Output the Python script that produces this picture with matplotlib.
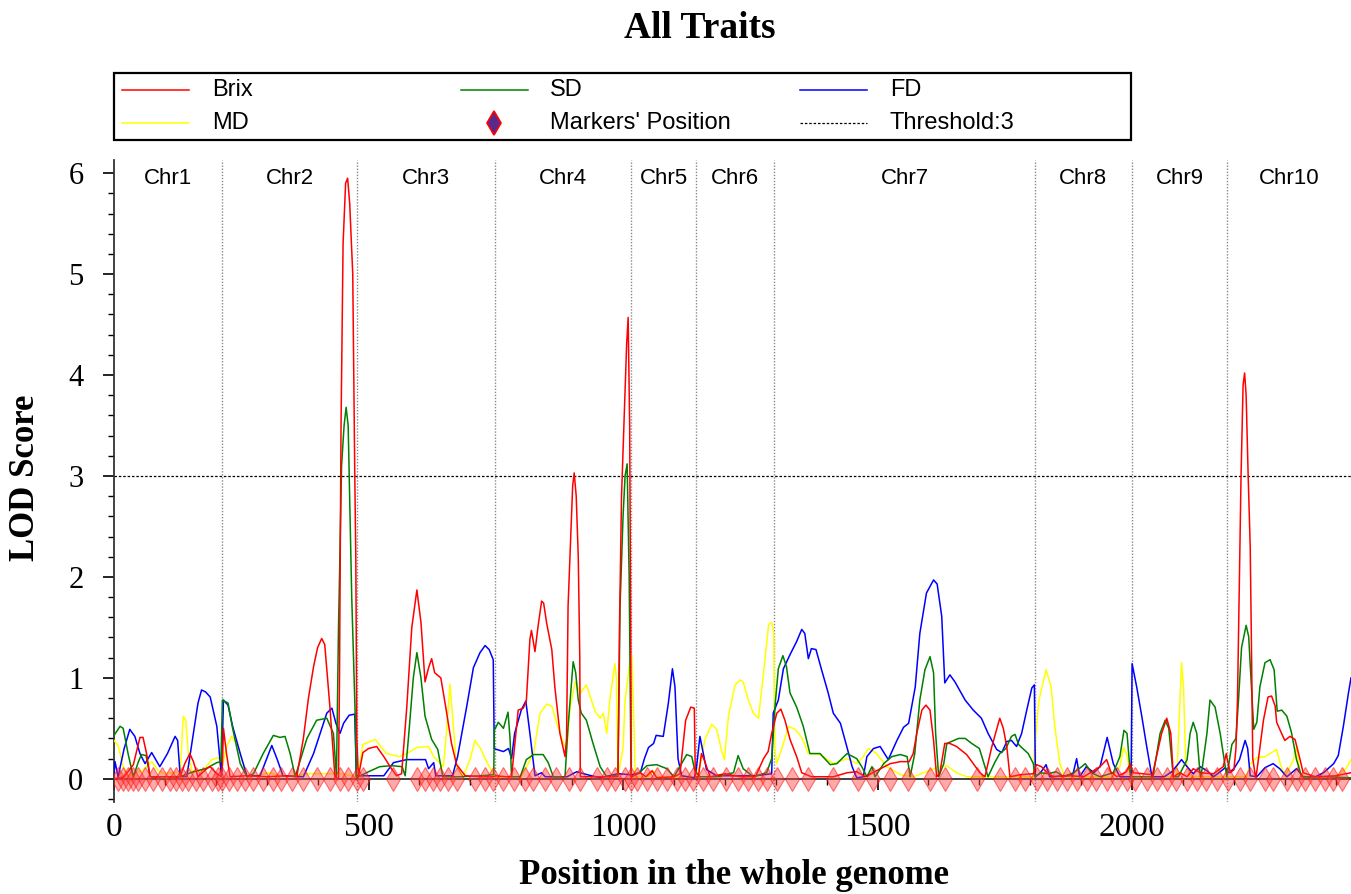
#!/usr/bin/env python3
"""LOD profiles of four traits along the whole genome (QTL scan)."""
import matplotlib

matplotlib.use("Agg")
import matplotlib.pyplot as plt
from matplotlib.patches import Rectangle
from matplotlib.ticker import MultipleLocator

# ---- data -------------------------------------------------------------
CHR_NAMES = ["Chr1", "Chr2", "Chr3", "Chr4", "Chr5", "Chr6", "Chr7", "Chr8", "Chr9", "Chr10"]
CHR_BOUNDS = [212, 478, 748, 1016, 1143, 1297, 1809, 1999, 2187]
GENOME_END = 2430
THRESHOLD = 3

brix_pos = [0, 20, 38, 51, 57, 64, 71, 100, 130, 139, 149, 156, 165, 182, 189, 200, 211,
            213, 215, 221, 228, 260, 300, 340, 359, 372, 382, 392, 400, 408, 414, 424, 434, 441,
            443, 446, 450, 455, 459, 463, 469, 473, 475, 477,
            480, 489, 500, 516, 530, 545, 555, 565, 575, 585, 595, 603, 611, 618, 624, 630, 642,
            652, 663, 673, 690, 720, 746,
            750, 770, 781, 794, 804, 810, 817, 820, 827, 833, 840, 844, 850, 860, 866, 876, 886,
            889, 892, 897, 901, 904, 908, 912, 915, 916, 950, 990, 993, 997, 1003, 1007, 1010,
            1013, 1015, 1016,
            1034, 1045, 1057, 1066, 1100, 1112, 1115, 1123, 1133, 1140, 1142,
            1148, 1154, 1160, 1171, 1200, 1230, 1260, 1276, 1285, 1292,
            1302, 1310, 1318, 1328, 1341, 1351, 1370, 1413, 1440, 1459, 1476, 1498, 1525, 1545,
            1562, 1570, 1577, 1587, 1595, 1603, 1610, 1616, 1622, 1632, 1642, 1655, 1675, 1688,
            1701, 1711, 1724, 1740, 1747, 1754, 1760, 1780, 1806,
            1812, 1822, 1831, 1844, 1880, 1905, 1937, 1950, 1958, 1970, 1989, 1996,
            2002, 2040, 2058, 2068, 2076, 2081, 2094, 2108, 2120, 2134, 2160, 2179, 2185,
            2187, 2193, 2200, 2204, 2207, 2211, 2214, 2218, 2221, 2224, 2228, 2232, 2234, 2237,
            2243, 2248, 2258, 2267, 2274, 2281, 2284, 2290, 2300, 2310, 2320, 2330, 2336, 2360,
            2400, 2430]
brix_lod = [0.0, 0.02, 0.14, 0.41, 0.41, 0.25, 0.02, 0.02, 0.02, 0.15, 0.25, 0.17, 0.02, 0.1, 0.12, 0.06, 0.02,
            0.15, 0.5, 0.25, 0.02, 0.03, 0.02, 0.03, 0.02, 0.4, 0.8, 1.11, 1.3, 1.39, 1.33, 0.72, 0.02, 0.0,
            1.0, 3.5, 5.3, 5.9, 5.95, 5.7, 5.0, 3.0, 2.2, 0.4,
            0.02, 0.26, 0.3, 0.32, 0.22, 0.1, 0.03, 0.05, 0.7, 1.5, 1.87, 1.55, 0.96, 1.1, 1.19, 1.05, 1.0,
            0.7, 0.35, 0.14, 0.03, 0.02, 0.02,
            0.03, 0.02, 0.02, 0.68, 0.7, 0.77, 1.38, 1.47, 1.26, 1.51, 1.76, 1.74, 1.54, 1.28, 0.91, 0.45, 0.22,
            0.4, 1.71, 2.37, 2.9, 3.03, 2.8, 2.2, 1.2, 0.02, 0.02, 0.02, 1.5, 2.8, 3.7, 4.3, 4.57,
            3.5, 1.5, 0.02,
            0.06, 0.02, 0.08, 0.01, 0.02, 0.05, 0.2, 0.58, 0.71, 0.7, 0.02,
            0.02, 0.25, 0.18, 0.02, 0.05, 0.02, 0.02, 0.2, 0.27, 0.45,
            0.65, 0.69, 0.58, 0.39, 0.22, 0.06, 0.02, 0.02, 0.06, 0.07, 0.02, 0.08, 0.15, 0.17,
            0.17, 0.25, 0.45, 0.68, 0.73, 0.68, 0.38, 0.02, 0.05, 0.35, 0.35, 0.32, 0.24, 0.15,
            0.06, 0.02, 0.31, 0.6, 0.5, 0.31, 0.02, 0.04, 0.05,
            0.14, 0.12, 0.07, 0.02, 0.03, 0.02, 0.12, 0.19, 0.07, 0.02, 0.07, 0.15,
            0.06, 0.04, 0.45, 0.6, 0.45, 0.02, 0.06, 0.02, 0.1, 0.06, 0.05, 0.12, 0.25,
            0.19, 0.06, 0.09, 0.3, 0.78, 2.07, 3.0, 3.9, 4.02, 3.8, 3.0, 2.3, 1.5, 0.2,
            0.0, 0.19, 0.58, 0.81, 0.82, 0.72, 0.56, 0.49, 0.38, 0.42, 0.39, 0.19, 0.06, 0.02,
            0.03, 0.06]

sd_pos = [0, 12, 18, 28, 38, 48, 54, 63, 71, 100, 130, 156, 180, 202, 210,
          213, 224, 233, 248, 261, 274, 293, 313, 326, 336, 346, 356, 379, 398, 418, 431, 437,
          441, 443, 447, 452, 456, 460, 464, 467, 471, 474, 476,
          480, 500, 522, 545, 566, 572, 580, 588, 595, 603, 611, 624, 636, 646, 680, 720, 746,
          747, 755, 765, 774, 778, 781, 798, 810, 824, 843, 853, 863, 886, 892, 898, 902, 907,
          912, 918, 928, 941, 955, 968, 985, 990, 992, 994, 1000, 1004, 1008, 1012, 1015, 1016,
          1034, 1047, 1066, 1086, 1100, 1115, 1125, 1135, 1141,
          1151, 1184, 1217, 1226, 1236, 1256, 1282, 1292,
          1299, 1305, 1314, 1321, 1328, 1341, 1354, 1367, 1387, 1407, 1420, 1440, 1459, 1469,
          1479, 1489, 1495, 1512, 1528, 1545, 1558, 1564, 1573, 1583, 1593, 1603, 1610, 1614,
          1620, 1630, 1636, 1659, 1672, 1685, 1700, 1711, 1717, 1730, 1740, 1752, 1763, 1770,
          1777, 1783, 1796, 1806,
          1809, 1820, 1835, 1851, 1865, 1885, 1901, 1908, 1920, 1937, 1963, 1976, 1984, 1990, 1997,
          2002, 2041, 2055, 2065, 2072, 2081, 2091, 2108, 2114, 2120, 2127, 2134, 2137, 2147,
          2153, 2163, 2173, 2183, 2186,
          2196, 2204, 2209, 2215, 2224, 2229, 2235, 2239, 2245, 2251, 2261, 2271, 2279, 2285,
          2294, 2304, 2313, 2323, 2333, 2380, 2430]
sd_lod = [0.43, 0.52, 0.5, 0.24, 0.02, 0.17, 0.24, 0.23, 0.02, 0.0, 0.02, 0.07, 0.1, 0.16, 0.17,
          0.78, 0.75, 0.5, 0.15, 0.02, 0.05, 0.25, 0.43, 0.41, 0.42, 0.25, 0.02, 0.4, 0.58, 0.6, 0.45, 0.02,
          1.5, 2.0, 3.1, 3.5, 3.68, 3.5, 2.5, 1.8, 1.1, 0.6, 0.0,
          0.02, 0.07, 0.12, 0.13, 0.12, 0.03, 0.5, 1.0, 1.25, 1.0, 0.62, 0.39, 0.29, 0.02, 0.02, 0.03, 0.04,
          0.48, 0.56, 0.5, 0.66, 0.4, 0.02, 0.02, 0.19, 0.24, 0.24, 0.16, 0.02, 0.02, 0.52, 0.9, 1.16, 1.05,
          0.78, 0.65, 0.58, 0.35, 0.12, 0.02, 0.03, 0.05, 0.8, 1.7, 2.6, 3.0, 3.12, 2.0, 0.4, 0.02,
          0.07, 0.13, 0.14, 0.1, 0.02, 0.15, 0.24, 0.22, 0.08,
          0.02, 0.02, 0.06, 0.23, 0.1, 0.02, 0.06, 0.2,
          0.75, 1.09, 1.22, 1.11, 0.85, 0.71, 0.52, 0.25, 0.25, 0.14, 0.15, 0.25, 0.2, 0.12,
          0.02, 0.12, 0.02, 0.15, 0.22, 0.24, 0.22, 0.02, 0.25, 0.78, 1.08, 1.21, 1.05, 0.45,
          0.02, 0.15, 0.35, 0.4, 0.4, 0.35, 0.3, 0.12, 0.02, 0.16, 0.25, 0.3, 0.42, 0.44,
          0.34, 0.31, 0.25, 0.15,
          0.02, 0.06, 0.05, 0.07, 0.02, 0.06, 0.12, 0.15, 0.06, 0.02, 0.06, 0.22, 0.48, 0.45, 0.02,
          0.02, 0.02, 0.45, 0.58, 0.5, 0.02, 0.02, 0.19, 0.45, 0.56, 0.45, 0.02, 0.08, 0.45,
          0.78, 0.71, 0.45, 0.12, 0.02,
          0.34, 0.4, 0.78, 1.3, 1.52, 1.41, 0.85, 0.49, 0.56, 0.91, 1.15, 1.18, 1.08, 0.67,
          0.68, 0.62, 0.46, 0.19, 0.02, 0.02, 0.01]

fd_pos = [0, 2, 8, 20, 31, 41, 51, 61, 74, 90, 105, 120, 125, 130, 143, 156, 165, 172, 180, 189, 202, 211,
          215, 224, 233, 248, 261, 287, 300, 310, 320, 332, 372, 392, 405, 418, 428, 436, 444, 451, 462,
          473, 476,
          489, 530, 549, 575, 612, 618, 628, 632, 665, 675, 693, 706, 719, 729, 737, 745, 747,
          752, 765, 775, 781, 787, 800, 809, 817, 827, 840, 847, 890, 909, 930, 955, 990, 1016,
          1034, 1042, 1050, 1060, 1065, 1079, 1089, 1097, 1102, 1108, 1115, 1140,
          1144, 1151, 1164, 1184, 1230, 1260, 1292,
          1295, 1305, 1315, 1328, 1341, 1351, 1357, 1364, 1370, 1379, 1390, 1403, 1413, 1427,
          1440, 1450, 1459, 1472, 1479, 1492, 1505, 1521, 1538, 1551, 1561, 1574, 1583, 1596,
          1610, 1617, 1626, 1632, 1642, 1652, 1672, 1688, 1704, 1717, 1734, 1744, 1754, 1763,
          1773, 1783, 1793, 1803, 1808,
          1810, 1820, 1831, 1838, 1870, 1884, 1891, 1897, 1910, 1925, 1937, 1951, 1963, 1976, 1998,
          2000, 2009, 2019, 2029, 2039, 2063, 2078, 2091, 2097, 2108, 2120, 2134, 2147, 2160,
          2173, 2183,
          2190, 2200, 2211, 2222, 2227, 2232, 2245, 2261, 2277, 2290, 2304, 2323, 2336, 2360,
          2376, 2396, 2405, 2415, 2425, 2430]
fd_lod = [0.05, 0.17, 0.02, 0.3, 0.49, 0.42, 0.25, 0.15, 0.26, 0.12, 0.25, 0.42, 0.38, 0.03, 0.02, 0.45,
          0.75, 0.88, 0.86, 0.81, 0.52, 0.03,
          0.78, 0.73, 0.52, 0.25, 0.03, 0.03, 0.2, 0.33, 0.2, 0.03, 0.02, 0.25, 0.45, 0.65, 0.7, 0.55, 0.45,
          0.55, 0.63, 0.64, 0.03,
          0.03, 0.03, 0.16, 0.19, 0.19, 0.1, 0.16, 0.03, 0.03, 0.22, 0.72, 1.1, 1.25, 1.32, 1.28, 1.18, 0.3,
          0.29, 0.27, 0.3, 0.2, 0.45, 0.68, 0.77, 0.45, 0.03, 0.06, 0.02, 0.02, 0.07, 0.04, 0.01, 0.05, 0.04,
          0.06, 0.2, 0.31, 0.35, 0.43, 0.42, 0.75, 1.09, 0.91, 0.2, 0.03, 0.01,
          0.1, 0.42, 0.09, 0.03, 0.03, 0.03, 0.05,
          0.65, 0.78, 1.09, 1.23, 1.36, 1.48, 1.44, 1.19, 1.29, 1.28, 1.08, 0.85, 0.65, 0.55,
          0.31, 0.12, 0.01, 0.02, 0.22, 0.3, 0.32, 0.19, 0.38, 0.51, 0.55, 0.91, 1.44, 1.84,
          1.97, 1.93, 1.61, 0.95, 1.03, 0.96, 0.78, 0.68, 0.6, 0.45, 0.29, 0.26, 0.37, 0.38,
          0.32, 0.45, 0.68, 0.9, 0.93,
          0.02, 0.06, 0.14, 0.02, 0.03, 0.05, 0.2, 0.02, 0.12, 0.06, 0.12, 0.41, 0.15, 0.02, 0.02,
          1.14, 0.91, 0.62, 0.31, 0.02, 0.02, 0.07, 0.15, 0.19, 0.12, 0.05, 0.12, 0.08, 0.02,
          0.07, 0.11,
          0.06, 0.1, 0.19, 0.38, 0.3, 0.03, 0.02, 0.11, 0.15, 0.1, 0.02, 0.1, 0.02, 0.02,
          0.06, 0.15, 0.23, 0.52, 0.85, 1.0]

md_pos = [0, 8, 18, 28, 38, 55, 74, 87, 100, 130, 136, 141, 146, 153, 175, 192, 205, 211,
          221, 231, 241, 254, 261, 290, 303, 320, 340, 380, 420, 450, 476,
          483, 489, 513, 535, 561, 575, 595, 618, 628, 647, 653, 660, 667, 673, 686, 700, 709, 720, 729, 748,
          781, 800, 824, 837, 850, 860, 870, 883, 889, 896, 906, 916, 928, 945, 955, 961, 968, 974, 984,
          987, 990, 1000, 1004, 1012, 1017, 1020, 1024,
          1050, 1059, 1066, 1140,
          1151, 1161, 1174, 1184, 1194, 1199, 1207, 1220, 1230, 1236, 1246, 1256, 1266, 1276, 1286,
          1292, 1296, 1298,
          1302, 1315, 1325, 1338, 1351, 1364, 1387, 1413, 1440, 1459, 1472, 1482, 1498, 1518, 1545,
          1570, 1622, 1636, 1655, 1675, 1806,
          1808, 1817, 1831, 1841, 1848, 1858, 1868, 1960, 1976, 1983, 1990, 1996,
          2002, 2088, 2094, 2097, 2101, 2105, 2114, 2185,
          2200, 2225, 2232, 2245, 2261, 2271, 2284, 2291, 2300, 2317, 2323, 2330, 2345, 2400, 2420, 2430]
md_lod = [0.38, 0.33, 0.12, 0.02, 0.05, 0.08, 0.17, 0.08, 0.05, 0.07, 0.62, 0.58, 0.25, 0.08, 0.08, 0.19,
          0.21, 0.08,
          0.32, 0.42, 0.35, 0.15, 0.02, 0.04, 0.06, 0.04, 0.02, 0.05, 0.05, 0.05, 0.02,
          0.15, 0.34, 0.39, 0.25, 0.22, 0.25, 0.31, 0.32, 0.22, 0.12, 0.45, 0.94, 0.5, 0.12, 0.02, 0.2, 0.38,
          0.3, 0.2, 0.02,
          0.02, 0.02, 0.25, 0.65, 0.74, 0.72, 0.55, 0.35, 0.3, 0.71, 0.96, 0.85, 0.93, 0.67, 0.6, 0.65, 0.45,
          0.78, 1.14, 1.0, 0.02, 0.3, 0.78, 1.1, 1.23, 0.78, 0.02,
          0.02, 0.08, 0.02, 0.02,
          0.12, 0.39, 0.54, 0.49, 0.27, 0.19, 0.62, 0.93, 0.98, 0.96, 0.78, 0.65, 0.6, 1.05, 1.53,
          1.55, 1.44, 0.3,
          0.15, 0.35, 0.52, 0.49, 0.41, 0.25, 0.24, 0.15, 0.2, 0.15, 0.22, 0.3, 0.25, 0.12, 0.04,
          0.02, 0.12, 0.13, 0.06, 0.02, 0.02,
          0.28, 0.78, 1.08, 0.91, 0.52, 0.15, 0.02, 0.02, 0.12, 0.31, 0.24, 0.02,
          0.02, 0.02, 0.78, 1.15, 0.91, 0.2, 0.02, 0.02,
          0.02, 0.02, 0.15, 0.21, 0.22, 0.25, 0.29, 0.15, 0.02, 0.19, 0.32, 0.05, 0.02, 0.02, 0.1, 0.19]

marker_pos = [8, 18, 28, 38, 48, 61, 77, 94, 110, 122, 133, 146, 162, 175, 192, 205,
              212, 226, 241, 257, 274, 293, 313, 329, 349, 372, 398, 424, 444, 460,
              477, 490, 549, 595, 611, 627, 641, 656, 673, 709, 728,
              745, 765, 785, 807, 824, 847, 869, 893, 916, 948, 968, 984, 1004,
              1016, 1027, 1047, 1066, 1086, 1105, 1122, 1138,
              1158, 1177, 1203, 1226, 1246, 1266, 1282,
              1302, 1331, 1364, 1413, 1462, 1491, 1524, 1560, 1603, 1633, 1695, 1741, 1770, 1790,
              1813, 1832, 1852, 1872, 1891, 1911, 1930, 1950, 1970, 1989,
              2006, 2029, 2048, 2068, 2087, 2107, 2127, 2146, 2166,
              2189, 2212, 2232, 2261, 2277, 2304, 2323, 2340, 2359, 2379, 2395, 2412]

SERIES = [  # drawn bottom to top
    ("MD", md_pos, md_lod, "#ffff00"),
    ("FD", fd_pos, fd_lod, "#0000ff"),
    ("SD", sd_pos, sd_lod, "#008000"),
    ("Brix", brix_pos, brix_lod, "#ff0000"),
]
COLORS = {name: c for name, _, _, c in SERIES}

SANS = ["Liberation Sans", "DejaVu Sans"]
SERIF = ["Liberation Serif", "DejaVu Serif"]
Y_LO, Y_HI = -0.23, 6.13
W, H = 1351, 894
THR_STYLE = (0, (2, 1.5))


def draw_legend(fig):
    # box spans px 114..1131 horizontally, 73..140 vertically; work in box pixels
    lax = fig.add_axes([114 / W, 1 - 140 / H, (1131 - 114) / W, 67 / H])
    lax.set_xlim(0, 1017)
    lax.set_ylim(0, 67)
    lax.axis("off")
    lax.add_patch(Rectangle((0, 0), 1017, 67, fill=False, ec="black", lw=1.6, clip_on=False))
    rows = [50, 17]
    cols = [(8, 98), (347, 436), (686, 776)]
    entries = [("Brix", "line", COLORS["Brix"]), ("SD", "line", COLORS["SD"]),
               ("FD", "line", COLORS["FD"]), ("MD", "line", COLORS["MD"]),
               ("Markers' Position", "marker", None), ("Threshold:%d" % THRESHOLD, "thr", "black")]
    for i, (label, kind, color) in enumerate(entries):
        y = rows[i // 3]
        hx, tx = cols[i % 3]
        if kind == "line":
            lax.plot([hx, hx + 67], [y, y], color=color, lw=1.1)
        elif kind == "thr":
            lax.plot([hx, hx + 67], [y, y], color=color, lw=0.9, ls=THR_STYLE)
        else:
            lax.plot([hx + 33], [y], ls="none", marker="d", ms=12, mfc="#5a2a8a", mec="#ff0000", mew=1.2)
        lax.text(tx, y, label, ha="left", va="center", fontsize=17, family=SANS)


def main():
    fig = plt.figure(figsize=(W / 100, H / 100), dpi=100)
    ax = fig.add_axes([114 / W, 0.1029, 1 - 114 / W, 0.7181])

    for name, xs, ys, color in SERIES:
        ax.plot(xs, ys, color=color, lw=1.1, label=name, zorder=3)

    ax.plot(marker_pos, [0] * len(marker_pos), ls="none", marker="d", ms=12,
            mfc=(1, 0.25, 0.25, 0.45), mec=(1, 0, 0, 0.5), mew=0.8, zorder=4)

    ax.axhline(THRESHOLD, color="black", ls=THR_STYLE, lw=0.9, zorder=2)
    ax.vlines(CHR_BOUNDS, Y_LO, Y_HI, colors="#8a8a8a", linestyles=(0, (1, 1.2)), lw=1, zorder=1)

    edges = [0] + CHR_BOUNDS + [GENOME_END]
    for name, a, b in zip(CHR_NAMES, edges[:-1], edges[1:]):
        ax.text((a + b) / 2, 5.95, name, ha="center", va="center", fontsize=16, family=SANS)

    ax.set_xlim(0, GENOME_END)
    ax.set_ylim(Y_LO, Y_HI)
    ax.spines["bottom"].set_position(("data", 0))
    for s in ("top", "right"):
        ax.spines[s].set_visible(False)
    for s in ("left", "bottom"):
        ax.spines[s].set_linewidth(1.3)
        ax.spines[s].set_color("#333333")

    ax.xaxis.set_major_locator(MultipleLocator(500))
    ax.xaxis.set_minor_locator(MultipleLocator(100))
    ax.yaxis.set_major_locator(MultipleLocator(1))
    ax.yaxis.set_minor_locator(MultipleLocator(0.2))
    ax.tick_params(which="major", length=8, width=1.2, direction="out")
    ax.tick_params(which="minor", length=4, width=1, direction="out")
    ax.tick_params(axis="x", which="major", pad=16, labelsize=24)
    ax.tick_params(axis="y", which="major", pad=14, labelsize=22)
    for lab in ax.get_xticklabels() + ax.get_yticklabels():
        lab.set_family(SERIF)

    fig.text(26 / W, 1 - 478 / H, "LOD Score", rotation=90, ha="center", va="center",
             fontsize=25, fontweight="bold", family=SERIF)
    fig.text(734 / W, 1 - 876 / H, "Position in the whole genome", ha="center", va="center",
             fontsize=25, fontweight="bold", family=SERIF)
    fig.text(700 / W, 1 - 28 / H, "All Traits", ha="center", va="center",
             fontsize=27, fontweight="bold", family=SERIF)

    draw_legend(fig)

    fig.savefig("out.png", dpi=100)
    plt.close(fig)


if __name__ == "__main__":
    main()
